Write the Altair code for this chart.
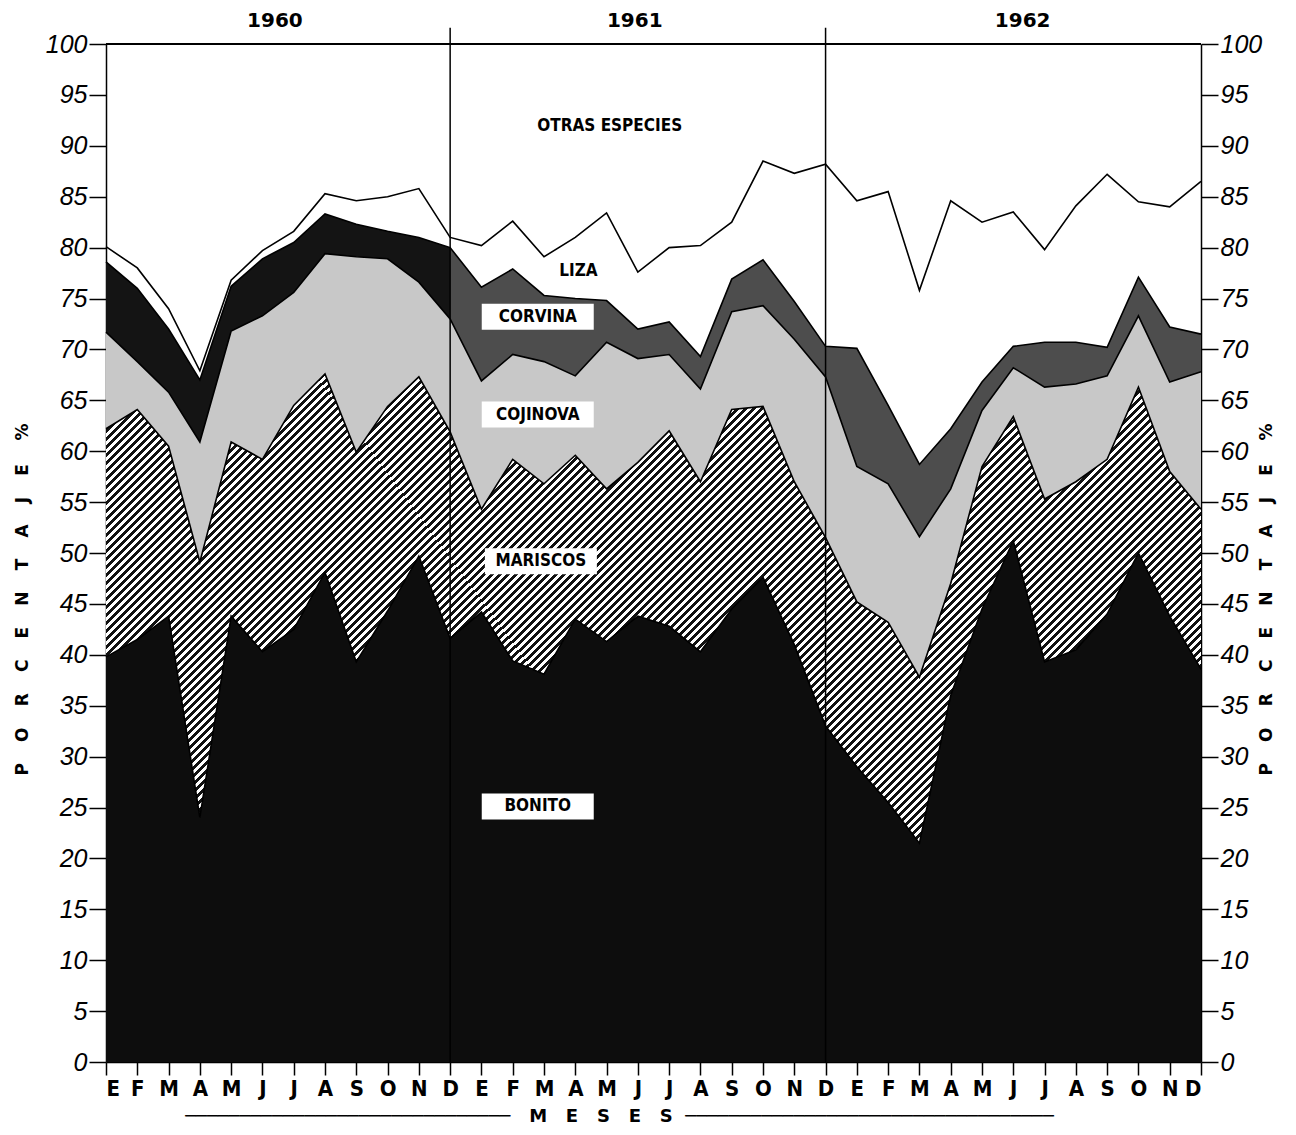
import altair as alt
import pandas as pd

# ---------------- data (cumulative upper limits, % of total catch) ----------------
meses = ["E", "F", "M", "A", "M", "J", "J", "A", "S", "O", "N", "D"]
anios = ["1960", "1961", "1962"]
anio_pos = [5.4, 16.9, 29.3]

bonito_sup = [39.8, 41.5, 43.8, 24.0, 43.8, 40.3, 42.5, 48.1, 39.3, 44.3, 49.7, 41.6,
              44.2, 39.4, 38.1, 43.5, 41.3, 43.8, 42.8, 40.3, 44.5, 47.6, 41.0, 33.0,
              29.0, 25.5, 21.5, 36.0, 44.5, 51.2, 39.3, 40.5, 44.0, 50.0, 43.8, 38.6]
mariscos_sup = [62.2, 64.1, 60.5, 49.1, 60.9, 59.2, 64.5, 67.6, 59.9, 64.4, 67.3, 61.9,
                54.3, 59.2, 56.8, 59.6, 56.3, 58.9, 62.0, 57.0, 64.1, 64.4, 57.0, 51.5,
                45.2, 43.2, 37.8, 47.0, 58.5, 63.4, 55.3, 57.0, 59.2, 66.3, 58.0, 54.3]
cojinova_sup = [71.7, 68.8, 65.8, 60.9, 71.8, 73.3, 75.6, 79.4, 79.1, 78.9, 76.6, 73.0,
                66.9, 69.5, 68.8, 67.4, 70.7, 69.1, 69.5, 66.1, 73.7, 74.3, 71.0, 67.3,
                58.5, 56.8, 51.6, 56.3, 64.0, 68.2, 66.3, 66.6, 67.4, 73.3, 66.8, 67.8]
corvina_sup = [78.6, 76.0, 72.0, 67.0, 76.2, 78.9, 80.5, 83.3, 82.3, 81.6, 81.0, 80.0,
               76.1, 77.9, 75.3, 75.0, 74.8, 72.0, 72.7, 69.3, 76.9, 78.8, 74.7, 70.3,
               70.1, 64.5, 58.7, 62.2, 66.8, 70.3, 70.7, 70.7, 70.2, 77.1, 72.2, 71.5]
liza_sup = [80.1, 78.0, 74.0, 67.9, 76.8, 79.7, 81.6, 85.3, 84.6, 85.0, 85.8, 81.0,
            80.2, 82.6, 79.1, 81.0, 83.4, 77.6, 80.0, 80.2, 82.5, 88.5, 87.3, 88.2,
            84.6, 85.5, 75.8, 84.6, 82.5, 83.5, 79.8, 84.1, 87.2, 84.5, 84.0, 86.5]

etiquetas = ["OTRAS ESPECIES", "LIZA", "CORVINA", "COJINOVA", "MARISCOS", "BONITO"]
etiq_i = [16.1, 15.1, 13.8, 13.8, 13.9, 13.8]
etiq_v = [91.9, 77.7, 73.2, 63.6, 49.2, 25.1]
etiq_caja = [False, False, True, True, True, True]

separadores = [11, 23]

# ---------------- tables ----------------
n = len(bonito_sup)
idx = list(range(n))
cero = [0.0] * n

capas = [
    ("Bonito", idx, cero, bonito_sup),
    ("Cojinova", idx, mariscos_sup, cojinova_sup),
    ("Corvina 1960", idx[:12], cojinova_sup[:12], corvina_sup[:12]),
    ("Corvina 1961-62", idx[11:], cojinova_sup[11:], corvina_sup[11:]),
]
filas = []
for nombre, ii, lo, hi in capas:
    for a, b, c in zip(ii, lo, hi):
        filas.append({"especie": nombre, "i": a, "inf": b, "sup": c})
areas_df = pd.DataFrame(filas)
mariscos_df = pd.DataFrame({"i": idx, "inf": bonito_sup, "sup": mariscos_sup})

limites = [("bonito", bonito_sup), ("mariscos", mariscos_sup), ("cojinova", cojinova_sup),
           ("corvina", corvina_sup), ("liza", liza_sup)]
lin_rows = []
for nombre, vals in limites:
    for a, v in zip(idx, vals):
        lin_rows.append({"limite": nombre, "i": a, "v": v})
lineas_df = pd.DataFrame(lin_rows)

etiq_df = pd.DataFrame({"t": etiquetas, "i": etiq_i, "v": etiq_v, "caja": etiq_caja})
anio_df = pd.DataFrame({"t": anios, "i": anio_pos, "v": [102.3] * 3})
sep_df = pd.DataFrame({"i": separadores, "v0": [0] * 2, "v1": [101.6] * 2})
tope_df = pd.DataFrame({"x1": [0], "x2": [n - 1], "v": [100]})

# ---------------- styles ----------------
NB = "\u00a0"
TH = "\u2009"
def espaciado(palabra, sep):
    return sep.join(list(palabra))

titulo_y = espaciado("PORCENTAJE", NB * 3 + TH) + NB * 4 + "%"
titulo_x = "\u2500" * 30 + NB * 3 + espaciado("MESES", NB * 3) + NB * 2 + "\u2500" * 34

# diagonal hatch for MARISCOS (stripes rising to the right)
periodo = 0.00265
stops = []
k = 0
while k * periodo < 0.62:
    o = k * periodo
    stops += [alt.GradientStop(offset=round(o, 6), color="#111111"),
              alt.GradientStop(offset=round(o + periodo * 0.5, 6), color="#111111"),
              alt.GradientStop(offset=round(o + periodo * 0.5, 6), color="#ffffff"),
              alt.GradientStop(offset=round(o + periodo, 6), color="#ffffff")]
    k += 1
rayado = alt.LinearGradient(gradient="linear", stops=stops, x1=0, y1=0, x2=2.33, y2=1)

lbl_expr = "[" + ",".join("'%s'" % m for m in meses) + "][datum.value % 12]"

xscale = alt.Scale(domain=[0, n - 1], nice=False, zero=False)
yscale = alt.Scale(domain=[0, 100], nice=False)

x_axis = alt.Axis(values=idx, labelExpr=lbl_expr, title=titulo_x, tickSize=13,
                  tickWidth=1.5, tickColor="black", domainColor="black", domainWidth=1.5,
                  labelFont="DejaVu Sans Condensed", labelFontWeight="bold",
                  labelFontSize=22, labelColor="black", labelPadding=3,
                  titleFont="DejaVu Sans", titleFontWeight="bold", titleFontSize=18,
                  titleColor="black", titlePadding=8, titleX=513, grid=False, labelAngle=0)
X = alt.X("i:Q", scale=xscale, axis=x_axis)

def y_axis(orient):
    return alt.Axis(orient=orient, values=list(range(0, 101, 5)), tickSize=17,
                    tickWidth=1.5, tickColor="black", domainColor="black", domainWidth=1.5,
                    labelFont="Liberation Sans", labelFontStyle="italic",
                    labelFontSize=25, labelColor="black", labelPadding=2,
                    title=titulo_y, titleFont="DejaVu Sans", titleFontWeight="bold",
                    titleFontSize=17, titleColor="black", titleAngle=270,
                    titlePadding=14, titleY=555, grid=False)

colores_dom = ["Bonito", "Cojinova", "Corvina 1960", "Corvina 1961-62"]
colores_rng = ["#0d0d0d", "#c8c8c8", "#141414", "#4d4d4d"]

areas = alt.Chart(areas_df).mark_area(interpolate="linear", opacity=1).encode(
    x=X,
    y=alt.Y("inf:Q", scale=yscale, axis=y_axis("left"), stack=None),
    y2="sup:Q",
    color=alt.Color("especie:N", scale=alt.Scale(domain=colores_dom, range=colores_rng),
                    legend=None),
)

mariscos = alt.Chart(mariscos_df).mark_area(interpolate="linear", color=rayado,
                                            opacity=1).encode(
    x=X,
    y=alt.Y("inf:Q", scale=yscale, axis=None, stack=None),
    y2="sup:Q",
)

lineas = alt.Chart(lineas_df).mark_line(color="black", strokeWidth=1.6).encode(
    x=X,
    y=alt.Y("v:Q", scale=yscale, axis=None),
    detail="limite:N",
)

seps = alt.Chart(sep_df).mark_rule(color="black", strokeWidth=1.5).encode(
    x=X,
    y=alt.Y("v0:Q", scale=yscale, axis=None),
    y2="v1:Q",
)

tope = alt.Chart(tope_df).mark_rule(color="black", strokeWidth=1.8).encode(
    x=alt.X("x1:Q", scale=xscale, axis=x_axis),
    x2="x2:Q",
    y=alt.Y("v:Q", scale=yscale, axis=y_axis("right")),
)

cajas = alt.Chart(etiq_df).transform_filter("datum.caja").mark_point(
    shape="M-1,-0.232H1V0.232H-1Z", size=112 * 112, filled=True, fill="white",
    opacity=1,
).encode(
    x=X,
    y=alt.Y("v:Q", scale=yscale, axis=None),
)

textos = alt.Chart(etiq_df).mark_text(
    font="DejaVu Sans Condensed", fontWeight="bold", fontSize=17, color="black",
    align="center", baseline="middle",
).encode(
    x=X,
    y=alt.Y("v:Q", scale=yscale, axis=None),
    text="t:N",
)

anios_txt = alt.Chart(anio_df).mark_text(
    font="DejaVu Sans", fontWeight="bold", fontSize=20, color="black",
    align="center", baseline="middle",
).encode(
    x=X,
    y=alt.Y("v:Q", scale=yscale, axis=None),
    text="t:N",
)

chart = alt.layer(areas, mariscos, lineas, seps, tope, cajas, textos, anios_txt).resolve_axis(
    y="independent"
).properties(
    width=1095, height=1018,
    padding={"left": 5, "top": 2, "right": 2, "bottom": 2},
).configure_view(stroke=None).configure(background="white")

chart.save("out.html", embed_options={"renderer": "svg", "actions": False})
